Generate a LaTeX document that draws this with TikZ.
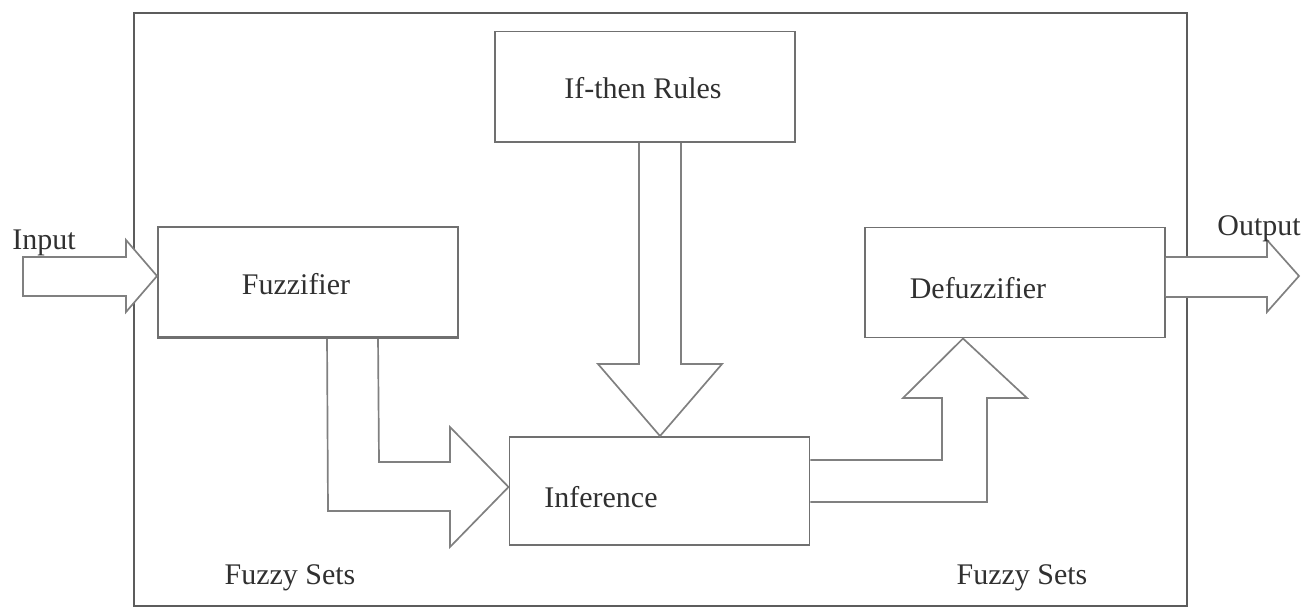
\documentclass[tikz,border=0pt]{standalone}
\usepackage{fontspec}
\setmainfont{Liberation Serif}
\usetikzlibrary{calc}
\definecolor{framegray}{HTML}{5C5C5C}
\definecolor{boxgray}{HTML}{707070}
\definecolor{arrowgray}{HTML}{808080}
\definecolor{textgray}{HTML}{303030}
\def\Px{0.025cm}

\begin{document}
\begin{tikzpicture}[x=\Px,y=-\Px,
  box/.style={draw=boxgray, line width=1.4pt, inner sep=0pt, minimum width=300*\Px, minimum height=110*\Px},
  blockarrow/.style={draw=arrowgray, fill=white, line width=1.2pt, line join=miter},
  lbl/.style={text=textgray, inner sep=0pt, font=\fontsize{21.3}{25}\selectfont}]
\useasboundingbox (0,0) rectangle (1309,607);

% outer frame
\draw[framegray, line width=2.1pt] (134,13) rectangle (1187,606);

% blocks
\node[box] (rules) at (645,86.5) {};
\node[box] (fuzz) at (308,282) {};
\node[box, minimum height=108*\Px] (infer) at (659.5,491) {};
\node[box] (defuzz) at (1015,282.5) {};

% in / out arrows
\draw[blockarrow] (23,257) -- (126,257) -- (126,240) -- (fuzz.west |- 0,276) -- (126,312) -- (126,296) -- (23,296) -- cycle;
\draw[blockarrow] (defuzz.east |- 0,257) -- (1267,257) -- (1267,240) -- (1299,276) -- (1267,312) -- (1267,297) -- (defuzz.east |- 0,297);

% inner arrows
\draw[blockarrow] ($(fuzz.south west)+(170,0)$) -- (328,511) -- (450,511) -- (450,547) -- (infer.west |- 0,487) -- (450,427) -- (450,462) -- (379,462) -- ($(fuzz.south west)+(221,0)$);
\draw[blockarrow] (639,142) -- (639,364) -- (598,364) -- (infer.north -| 660,0) -- (722,364) -- (681,364) -- (681,142);
\draw[blockarrow] (infer.east |- 0,460) -- (942,460) -- (942,398) -- (903,398) -- (defuzz.south -| 963,0) -- (1027,398) -- (987,398) -- (987,502) -- (infer.east |- 0,502);

% redraw box edges over arrow ends
\draw[boxgray, line width=1.4pt] (fuzz.south west) -- (fuzz.south east);
\draw[boxgray, line width=1.4pt] (rules.south west) -- (rules.south east);

% labels
\node[lbl] (rulestxt) at (643,88) {If-then Rules};
\node[lbl] (fuzztxt) at (296,284) {Fuzzifier};
\node[lbl] (infertxt) at (601,497) {Inference};
\node[lbl] (defuzztxt) at (978,288) {Defuzzifier};
\node[lbl] (intxt) at (44,243) {Input};
\node[lbl] (outtxt) at (1259,229) {Output};
\node[lbl] (setsl) at (290,578) {Fuzzy Sets};
\node[lbl] (setsr) at (1022,578) {Fuzzy Sets};
\end{tikzpicture}
\end{document}
